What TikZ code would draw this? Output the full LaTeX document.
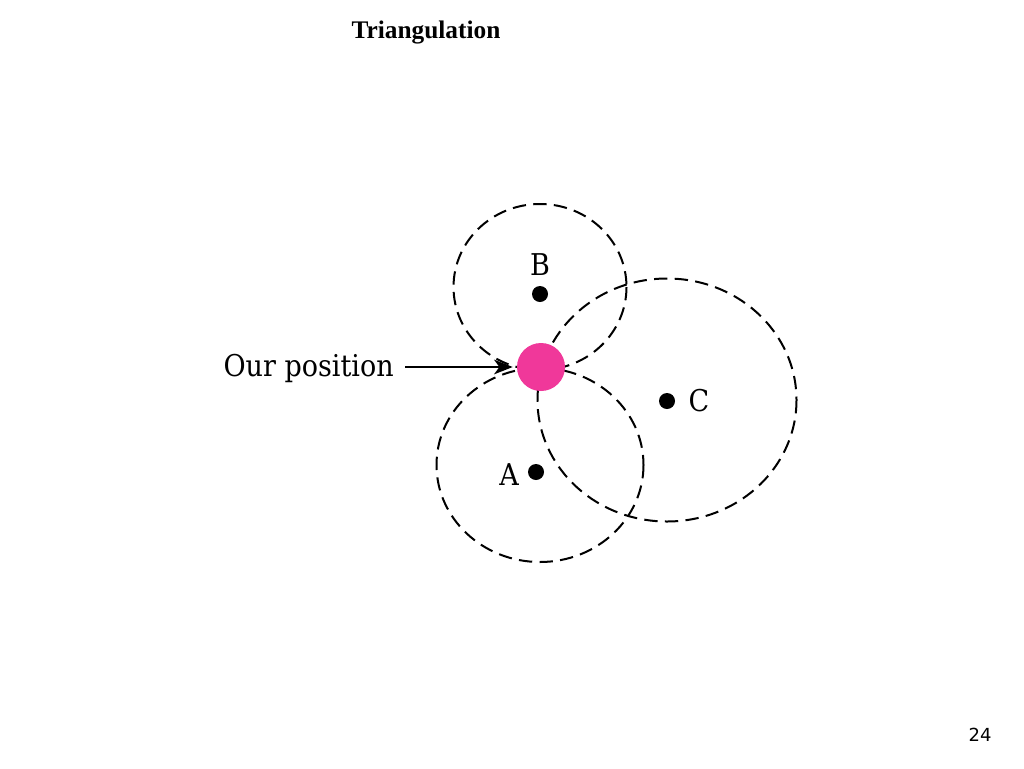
\documentclass[tikz,border=0pt]{standalone}
\usepackage{fontspec}
\setmainfont{Liberation Serif}
\newfontfamily\lblfont[FakeStretch=0.9]{DejaVu Serif}
\newfontfamily\numfont{DejaVu Sans}
\usetikzlibrary{arrows.meta}
\definecolor{posPink}{HTML}{F0389A}
\tikzset{
  rangecircle/.style={draw=black, line width=1.5pt, dash pattern=on 10pt off 5.5pt},
  station/.style={circle, fill=black, inner sep=0pt, minimum size=12pt},
  lbl/.style={font=\lblfont\fontsize{22.5}{26}\selectfont, inner sep=0pt},
}
\begin{document}
\begin{tikzpicture}[x=0.75pt, y=-0.75pt]
\useasboundingbox[fill=white] (0,0) rectangle (1024,768);
% title and page number
\node[font=\bfseries\fontsize{19}{22}\selectfont] (title) at (426,33) {Triangulation};
\node[font=\numfont\fontsize{13.5}{16}\selectfont] (page) at (980,735) {24};
% ranges
\draw[rangecircle] (540,287) ellipse [x radius=86.5, y radius=83];
\draw[rangecircle] (540,465) ellipse [x radius=103.5, y radius=97];
\draw[rangecircle] (667,400) ellipse [x radius=129.5, y radius=121.5];
% stations
\node[station] (B) at (540,294) {};
\node[station] (A) at (536,472) {};
\node[station] (C) at (667,401) {};
\node[lbl] (Blbl) at (540,265) {B};
\node[lbl] (Albl) at (509,475) {A};
\node[lbl] (Clbl) at (699,401) {C};
% our position
\node[circle, fill=posPink, inner sep=0pt, minimum size=36pt] (pos) at (541,367) {};
\node[lbl, anchor=east] (ourlbl) at (394,368) {Our position};
\draw[line width=1.5pt, -{Stealth[length=14pt, width=11pt, inset=4pt]}] (ourlbl.east) ++(11,-1) coordinate (arrstart) -- ([xshift=-3pt]pos.west);
\end{tikzpicture}
\end{document}
